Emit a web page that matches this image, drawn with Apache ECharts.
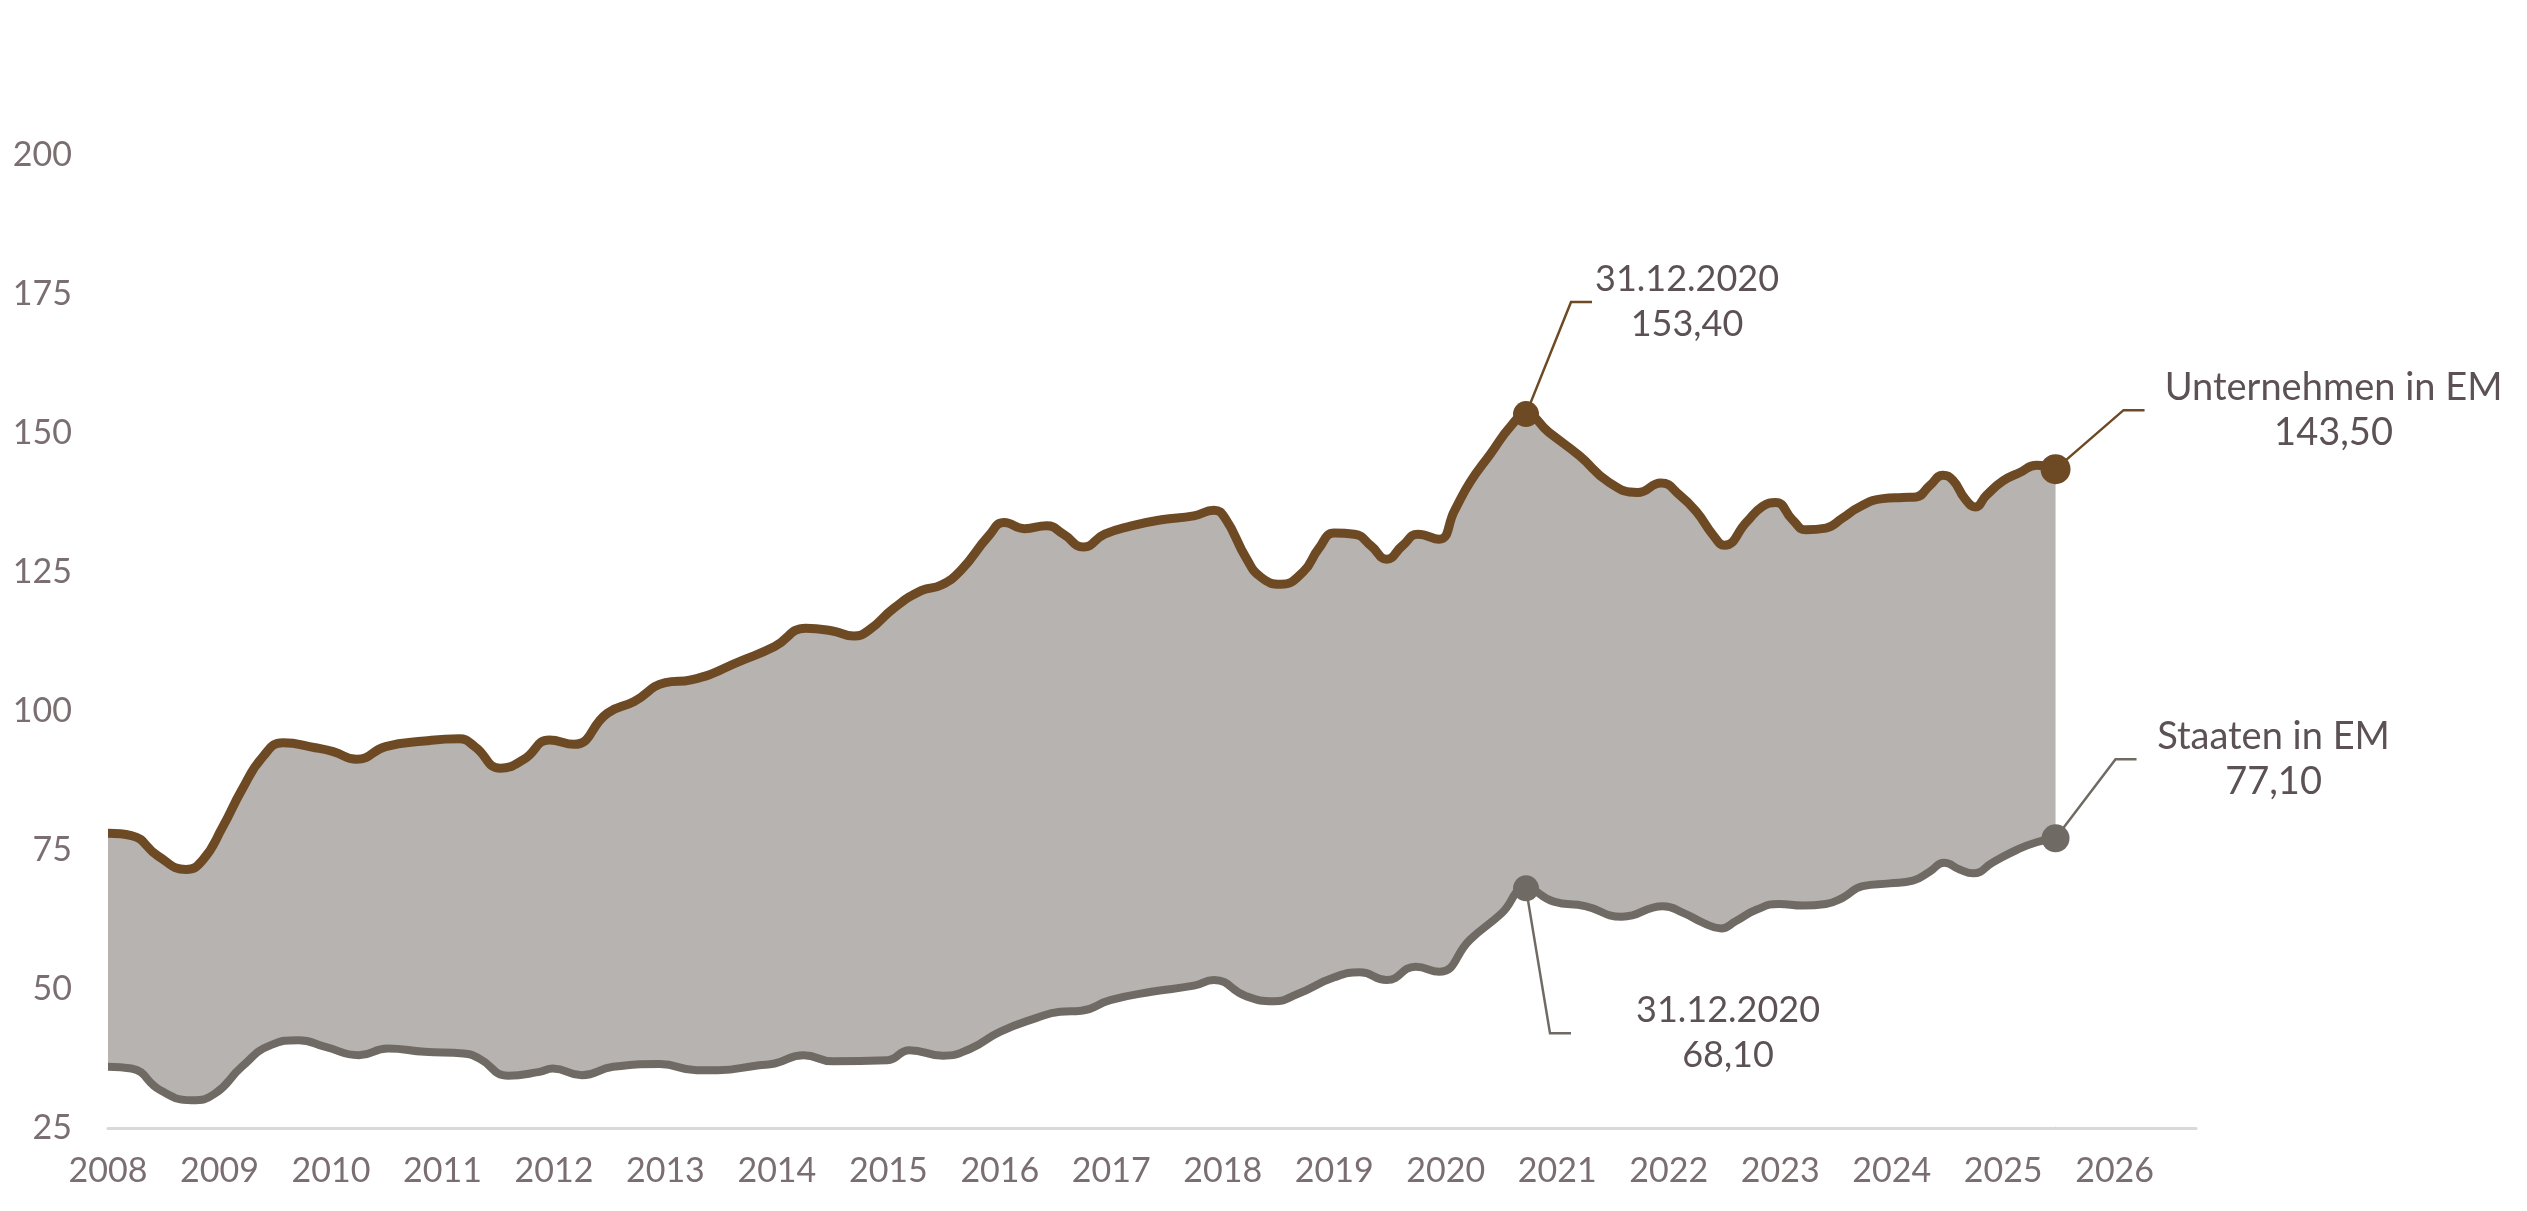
<!DOCTYPE html>
<html>
<head>
<meta charset="utf-8">
<script src="https://cdn.jsdelivr.net/npm/echarts@6/dist/echarts.min.js"></script>
<style>
  html, body { margin: 0; padding: 0; background: #fff; }
  #chart { width: 2527px; height: 1211px; }
</style>
</head>
<body>
<div id="chart"></div>
<script>
// Unternehmen in EM (brown line)
const uYears = [2008.00, 2008.21, 2008.45, 2008.70, 2008.85, 2009.03, 2009.20, 2009.39, 2009.57, 2009.86,
  2010.02, 2010.23, 2010.49, 2010.84, 2011.15, 2011.29, 2011.52, 2011.73, 2011.96, 2012.18,
  2012.48, 2012.72, 2013.00, 2013.23, 2013.70, 2013.98, 2014.26, 2014.50, 2014.69, 2014.83,
  2015.05, 2015.30, 2015.47, 2015.65, 2015.90, 2016.04, 2016.22, 2016.42, 2016.57,
  2016.75, 2016.94, 2017.18, 2017.45, 2017.74, 2017.92, 2018.02, 2018.21, 2018.34, 2018.52,
  2018.72, 2018.86, 2019.00, 2019.18, 2019.33, 2019.47, 2019.61, 2019.75, 2019.94, 2020.08,
  2020.22, 2020.40, 2020.59, 2020.72, 2020.92, 2021.20, 2021.46, 2021.72, 2021.93, 2022.10,
  2022.25, 2022.40, 2022.50, 2022.70, 2022.84, 2022.96, 2023.11, 2023.23, 2023.41, 2023.56,
  2023.71, 2023.92, 2024.10, 2024.22, 2024.34, 2024.46, 2024.55, 2024.66, 2024.75, 2024.85,
  2025.00, 2025.15, 2025.30, 2025.47];
const uValues = [78.0, 77.6, 73.9, 71.5, 73.2, 79.2, 85.8, 91.8, 94.3, 93.4,
  92.7, 91.3, 93.6, 94.6, 95.0, 93.6, 89.7, 91.3, 94.8, 94.0,
  99.6, 101.7, 105.1, 105.6, 109.2, 111.6, 114.9, 114.4, 113.5, 114.6,
  118.5, 121.7, 122.6, 125.3, 131.5, 133.9, 132.8, 133.3, 131.8,
  129.5, 131.8, 133.3, 134.4, 135.1, 136.1, 134.7, 127.5, 124.1, 122.8,
  125.0, 129.2, 132.0, 131.8, 129.7, 127.3, 129.7, 131.8, 130.9, 136.1,
  141.2, 146.2, 151.4, 153.4, 150.2, 145.9, 141.2, 139.3, 141.0, 138.8,
  135.8, 131.6, 129.8, 134.0, 136.8, 137.5, 134.4, 132.6, 132.9, 134.7,
  136.7, 138.2, 138.4, 138.5, 140.5, 142.4, 141.5, 138.1, 136.7, 138.8,
  141.4, 142.9, 144.2, 143.5];

// Staaten in EM (grey line)
const sYears = [2008.00, 2008.21, 2008.47, 2008.75, 2008.96, 2009.20, 2009.46, 2009.71, 2009.95, 2010.25,
  2010.51, 2010.84, 2011.19, 2011.33, 2011.59, 2011.87, 2011.99, 2012.25, 2012.53, 2012.95,
  2013.28, 2013.47, 2013.84, 2013.98, 2014.24, 2014.50, 2014.99, 2015.19, 2015.49, 2015.74,
  2016.00, 2016.33, 2016.54, 2016.73, 2016.99, 2017.36, 2017.74, 2017.92, 2018.21, 2018.46,
  2018.67, 2019.00, 2019.23, 2019.47, 2019.73, 2019.94, 2020.22, 2020.50, 2020.72, 2020.97,
  2021.25, 2021.58, 2021.95, 2022.13, 2022.31, 2022.47, 2022.60, 2022.79, 2022.99, 2023.20,
  2023.41, 2023.56, 2023.74, 2023.98, 2024.19, 2024.34, 2024.47, 2024.61, 2024.73, 2024.91,
  2025.12, 2025.30, 2025.47];
const sValues = [36.0, 35.7, 31.8, 30.0, 31.2, 36.0, 39.9, 40.8, 39.6, 38.1,
  39.3, 38.7, 38.4, 37.5, 34.4, 35.1, 35.7, 34.5, 36.0, 36.5,
  35.4, 35.4, 36.3, 36.6, 38.1, 37.0, 37.2, 39.0, 38.0, 39.3,
  42.3, 44.8, 45.9, 46.1, 48.0, 49.5, 50.6, 51.6, 48.7, 47.8,
  49.1, 52.1, 53.0, 51.6, 54.0, 53.1, 58.9, 63.6, 68.1, 65.7,
  64.9, 63.0, 64.9, 63.7, 61.9, 60.9, 62.2, 64.3, 65.3, 65.0,
  65.3, 66.4, 68.5, 69.0, 69.5, 71.1, 72.7, 71.5, 70.8, 72.8,
  75.0, 76.4, 77.1];

const yearLabels = [2008, 2009, 2010, 2011, 2012, 2013, 2014, 2015, 2016, 2017,
  2018, 2019, 2020, 2021, 2022, 2023, 2024, 2025, 2026];
const yTicks = [25, 50, 75, 100, 125, 150, 175, 200];

const uName = 'Unternehmen in EM';
const sName = 'Staaten in EM';
const peakDate = '31.12.2020';
const peakYear = 2020.72;

const BROWN = '#6d4a23';
const GREY = '#6f6a64';
const FILL = '#b7b3b0';
const TEXT = '#5c5154';
const AXIS_TEXT = '#7a6e71';
const FONT = 'Lato, "Noto Sans", sans-serif';

const pairs = (xs, ys) => xs.map((x, i) => [x, ys[i]]);
const fmt = v => v.toFixed(2).replace('.', ',');

const uData = pairs(uYears, uValues);
const sData = pairs(sYears, sValues);
const uPeak = uData[uYears.indexOf(peakYear)];
const sPeak = sData[sYears.indexOf(peakYear)];
const uLast = uData[uData.length - 1];
const sLast = sData[sData.length - 1];

const chart = echarts.init(document.getElementById('chart'));

const option = {
  animation: false,
  grid: { left: 108, right: 331, top: 155, bottom: 83 },
  xAxis: {
    type: 'value',
    min: 2008,
    max: 2026.73,
    interval: 1,
    z: 10,
    axisLine: { show: true, lineStyle: { color: '#dcd8d8', width: 3 } },
    axisTick: { show: false },
    splitLine: { show: false },
    axisLabel: {
      color: AXIS_TEXT,
      fontSize: 34,
      fontFamily: FONT,
      margin: 26,
      showMaxLabel: false,
      formatter: v => (yearLabels.indexOf(v) >= 0 ? String(v) : '')
    }
  },
  yAxis: {
    type: 'value',
    min: yTicks[0],
    max: yTicks[yTicks.length - 1],
    interval: 25,
    axisLine: { show: false },
    axisTick: { show: false },
    splitLine: { show: false },
    axisLabel: { color: AXIS_TEXT, fontSize: 34, fontFamily: FONT, margin: 36 }
  },
  series: [
    {
      name: uName,
      type: 'line',
      data: uData,
      smooth: 0.5,
      showSymbol: false,
      lineStyle: { color: BROWN, width: 9 },
      areaStyle: { color: FILL, opacity: 1 },
      z: 2
    },
    {
      // white area below the grey line cuts the band out
      name: sName,
      type: 'line',
      data: sData,
      smooth: 0.5,
      showSymbol: false,
      lineStyle: { color: GREY, width: 8 },
      areaStyle: { color: '#ffffff', opacity: 1 },
      z: 3
    },
    {
      type: 'scatter',
      data: [
        { value: uPeak, symbolSize: 26 },
        { value: uLast, symbolSize: 30 }
      ],
      itemStyle: { color: BROWN, opacity: 1 },
      z: 5
    },
    {
      type: 'scatter',
      data: [
        { value: sPeak, symbolSize: 26 },
        { value: sLast, symbolSize: 28 }
      ],
      itemStyle: { color: GREY, opacity: 1 },
      z: 5
    }
  ]
};

chart.setOption(option);

// annotation leaders: corner / end offsets and text centre relative to the dot
const notes = [
  { pt: uPeak, color: BROWN, corner: [45, -112], end: [66, -112], text: [peakDate, fmt(uPeak[1])], tx: 161 },
  { pt: uLast, color: BROWN, corner: [68, -59], end: [89, -59], text: [uName, fmt(uLast[1])], tx: 278 },
  { pt: sLast, color: GREY, corner: [60, -79], end: [81, -79], text: [sName, fmt(sLast[1])], tx: 218 },
  { pt: sPeak, color: GREY, corner: [24, 145], end: [45, 145], text: [peakDate, fmt(sPeak[1])], tx: 202 }
];

const graphics = [];

// hide the anti-aliased seam where the grey band ends under the white cut-out
const seamTop = chart.convertToPixel({ gridIndex: 0 }, sLast);
const seamBottom = chart.convertToPixel({ gridIndex: 0 }, [sLast[0], yTicks[0]]);
graphics.push({
  type: 'rect',
  z: 4,
  shape: { x: seamTop[0] - 2, y: seamTop[1] + 14, width: 4, height: seamBottom[1] - seamTop[1] - 16 },
  style: { fill: '#ffffff' }
});

notes.forEach(n => {
  const p = chart.convertToPixel({ gridIndex: 0 }, n.pt);
  graphics.push({
    type: 'polyline',
    z: 4,
    shape: { points: [p, [p[0] + n.corner[0], p[1] + n.corner[1]], [p[0] + n.end[0], p[1] + n.end[1]]] },
    style: { stroke: n.color, lineWidth: 2.5, fill: null }
  });
  graphics.push({
    type: 'text',
    z: 6,
    x: p[0] + n.tx,
    y: p[1] + n.corner[1],
    style: {
      text: n.text.join('\n'),
      fill: TEXT,
      font: (n.text[0] === peakDate ? '36px ' : '38px ') + FONT,
      lineHeight: 45,
      align: 'center',
      verticalAlign: 'middle'
    }
  });
});

chart.setOption({ graphic: graphics });

window.addEventListener('resize', () => {
  chart.resize();
});
</script>
</body>
</html>
